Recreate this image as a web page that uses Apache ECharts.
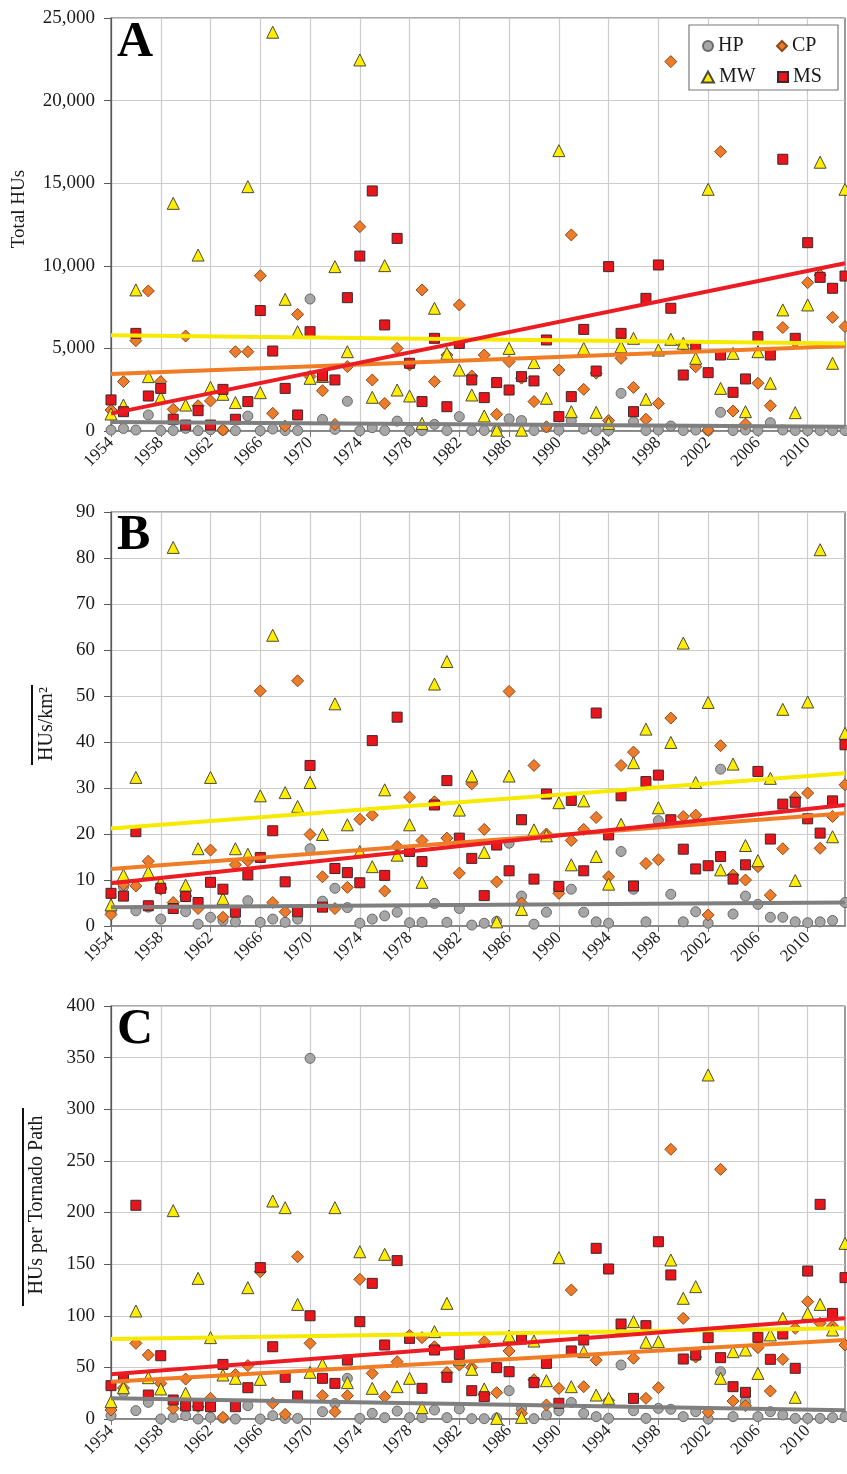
<!DOCTYPE html>
<html>
<head>
<meta charset="utf-8">
<title>Tornado HUs 1954–2013</title>
<script src="https://cdn.jsdelivr.net/npm/echarts@6/dist/echarts.min.js"></script>
<style>
  html, body { margin: 0; padding: 0; background: #fff; }
  #chart { width: 847px; height: 1474px; }
</style>
</head>
<body>
<div id="chart"></div>
<script>
// Years on the category axis
const years = ['1954','1955','1956','1957','1958','1959','1960','1961','1962','1963',
  '1964','1965','1966','1967','1968','1969','1970','1971','1972','1973',
  '1974','1975','1976','1977','1978','1979','1980','1981','1982','1983',
  '1984','1985','1986','1987','1988','1989','1990','1991','1992','1993',
  '1994','1995','1996','1997','1998','1999','2000','2001','2002','2003',
  '2004','2005','2006','2007','2008','2009','2010','2011','2012','2013'];

const regions = ['HP', 'CP', 'MW', 'MS'];

// Panel A: total HUs per year
const totalHP = [
  60,150,60,970,30,30,160,20,80,50,
  20,900,20,120,30,30,7990,700,100,1800,
  20,200,30,600,30,30,400,30,870,30,
  30,30,730,630,30,220,50,630,120,30,
  30,2280,560,30,60,300,30,60,30,1130,
  30,60,30,500,60,30,30,30,30,30];
const totalCP = [
  1270,2990,5470,8480,2990,1310,5750,1530,1820,60,
  4800,4800,9400,1070,300,7060,3300,2440,400,3900,
  12370,3090,1670,5000,4000,8540,2990,4600,7630,3330,
  4600,1010,4200,3200,1780,260,3690,11870,2520,3500,
  630,4400,2640,710,1670,22360,5200,3890,60,16910,
  1210,420,2890,1530,6260,5400,8980,9440,6880,6320];
const totalMW = [
  1030,1570,8540,3290,2020,13780,1570,10650,2640,2220,
  1720,14790,2320,24140,7970,6010,3190,3300,9950,4800,
  22460,2040,10010,2480,2120,460,7430,4700,3690,2180,
  910,50,5000,50,4140,1980,16970,1170,5000,1130,
  460,5100,5610,1920,4900,5550,5310,4400,14630,2580,
  4700,1170,4800,2890,7330,1110,7630,16270,4100,14630];
const totalMS = [
  1880,1170,5910,2120,2580,710,360,1230,360,2520,
  710,1780,7290,4840,2580,970,6010,3330,3090,8070,
  10590,14530,6420,11660,4100,1780,5610,1470,5300,3090,
  2020,2930,2480,3290,3030,5510,870,2080,6150,3630,
  9950,5910,1170,8030,10050,7430,3390,5100,3530,4600,
  2340,3150,5710,4600,16450,5610,11400,9300,8640,9380];
// Trend line values at 1954 and 2013 (HP, CP, MW, MS)
const totalTrends = [[550, 250], [3450, 5150], [5800, 5300], [1050, 10150]];

// Panel B: HUs per km²
const densityHP = [
  3.0,8.5,3.3,4.1,1.5,4.5,3.1,0.4,1.9,1.2,
  0.9,5.5,0.8,1.5,0.8,1.5,16.8,5.4,8.2,4.0,
  0.6,1.5,2.2,3.0,0.7,0.8,4.9,0.8,3.8,0.2,
  0.6,1.0,18.0,6.5,0.4,3.0,8.0,8.0,3.0,0.9,
  0.6,16.2,8.0,0.9,22.9,6.9,0.9,3.1,0.6,34.1,
  2.6,6.5,4.7,1.9,1.9,0.9,0.7,0.9,1.2,5.1];
const densityCP = [
  2.5,9.0,8.7,14.1,8.0,5.1,6.5,3.8,16.5,1.9,
  13.3,14.2,51.1,5.1,3.1,53.3,19.9,10.7,3.8,8.4,
  23.2,24.1,7.6,17.3,28.0,18.6,27.0,19.1,11.5,30.9,
  21.0,9.6,51.0,5.0,34.9,20.0,7.1,18.6,21.0,23.6,
  10.7,34.9,37.8,13.6,14.4,45.2,23.8,24.1,2.4,39.2,
  11.1,10.0,12.9,6.7,16.8,28.0,28.9,16.9,23.8,30.7];
const densityMW = [
  4.6,11.1,32.3,11.7,9.5,82.3,8.9,16.8,32.3,6.0,
  16.8,15.6,28.3,63.2,29.0,26.0,31.2,19.9,48.3,22.0,
  16.2,12.9,29.6,15.4,22.0,9.5,52.6,57.5,25.2,32.6,
  16.0,0.9,32.6,3.6,20.9,19.6,26.8,13.3,27.2,15.1,
  9.1,22.1,35.5,42.8,25.7,39.9,61.5,31.2,48.6,12.2,
  35.2,17.5,14.2,32.1,47.1,9.9,48.7,81.8,19.4,41.9];
const densityMS = [
  7.1,6.5,20.5,4.4,8.2,3.8,6.4,5.1,9.5,8.0,
  3.0,11.1,14.9,20.7,9.6,3.1,34.9,4.1,12.5,11.6,
  9.4,40.3,11.0,45.4,16.2,14.0,26.3,31.6,19.1,14.7,
  6.6,17.6,12.0,23.1,10.2,28.7,8.6,27.3,12.0,46.3,
  19.8,28.3,8.7,31.4,32.8,23.1,16.7,12.4,13.1,15.1,
  10.2,13.3,33.6,18.9,26.5,26.9,23.3,20.2,27.2,39.4];
const densityTrends = [[4.1, 5.1], [12.4, 24.5], [21.2, 33.2], [9.3, 26.3]];

// Panel C: HUs per tornado path
const pathHP = [
  3.2,25.5,8.1,16.1,0,1.6,3.2,0,1.6,1.0,
  0,12.9,0,3.2,0.6,0.6,349.3,7.1,15,39.4,
  0.6,5.5,1.3,7.7,1.3,1.3,8.7,1.3,9.7,0.3,
  0.3,1.0,27.4,10,0.3,3.9,8,16.1,5.5,2.3,
  0.6,52.3,8,0.6,10.3,9.4,2.3,7.1,0,45.8,
  2.3,16.8,2.3,7.1,3.9,0.6,0.6,0.6,1.3,2.3];
const pathCP = [
  8.7,30,73.3,62,34.5,10.3,38.7,12,20,1.6,
  43,51.7,142.7,15.2,4.5,157.2,73.3,22.6,7.1,22.6,
  135.3,44.2,21.6,55.5,81,78.8,70,45,52.3,50,
  74.9,25.5,65.9,5.5,38,13.6,29.7,124.9,31.3,57,
  18,85,58.8,20,30.3,261.2,97.5,60,6.5,241.8,
  17.4,12.9,69.1,27.1,57.8,87.8,113.6,92.7,90,71.7];
const pathMW = [
  16.8,30.3,104.6,40,29.1,201.8,24.9,136.2,78.8,42.6,
  39.4,127.2,38.4,211.1,204.7,111,45.2,52.9,204.7,35.2,
  162,29.7,159.5,31.3,39.4,11,84.6,112,58,48.1,
  29.1,0.6,80.4,1.6,75.5,37.1,156.3,31.3,65.2,23.2,
  20,89,94.3,74.3,74.9,154,116.9,128.2,333.2,39.4,
  65.2,66.8,44.2,81.4,97.5,21,102.3,111,86.2,170.1];
const pathMS = [
  32.3,40,207,23.2,61.3,18.4,12.6,12.9,11.9,52.9,
  11.9,30.3,146.6,70,40.4,22.3,100,39.4,34.5,57.1,
  94.3,131.4,71.7,153.4,78.1,29.7,66.8,40.4,62.6,27.4,
  21.6,49.7,45.8,77.5,35.2,53.9,15.2,65.9,76.5,165.3,
  145.3,92,20,90.4,171.7,139.5,58.1,62,78.8,59.4,
  31.3,25.8,79.1,57.8,82.3,49.1,143.3,207.9,102.3,136.9];
const pathTrends = [[20, 8.5], [36, 76.5], [77.5, 87.8], [43.3, 97.5]];

// Axis ranges
const axisMax = [25000, 90, 400];
const axisStep = [5000, 10, 50];

const SERIF = '"Liberation Serif", "Times New Roman", serif';
const TEXT = '#1a1a1a';

const markers = {
  HP: { symbol: 'circle',   size: 10, fill: '#a6a6a6', border: '#6a6a6a' },
  CP: { symbol: 'diamond',  size: 12, fill: '#ec7b2a', border: '#8a4a1e' },
  MW: { symbol: 'triangle', size: 12, fill: '#ffee00', border: '#4a4a3a' },
  MS: { symbol: 'rect',     size: 10, fill: '#e8161c', border: '#3a2a2a' }
};
const trendColors = { HP: '#7f7f7f', CP: '#f07d26', MW: '#f6ea00', MS: '#ec1c24' };

const panelValues = [
  [totalHP, totalCP, totalMW, totalMS],
  [densityHP, densityCP, densityMW, densityMS],
  [pathHP, pathCP, pathMW, pathMS]
];
const panelTrends = [totalTrends, densityTrends, pathTrends];

const gridBoxes = [
  { top: 18, height: 413 },
  { top: 512, height: 414 },
  { top: 1006, height: 413 }
];

const withCommas = v => String(v).replace(/\B(?=(\d{3})+(?!\d))/g, ',');

const grid = gridBoxes.map(b => ({
  left: 111, right: 2, top: b.top, height: b.height,
  show: true, borderColor: '#595959', borderWidth: 1.2, backgroundColor: '#fff'
}));

const xAxis = gridBoxes.map((b, i) => ({
  type: 'category', gridIndex: i, data: years, boundaryGap: false,
  axisLine: { lineStyle: { color: '#7a7a7a', width: 1.5 } },
  axisTick: { show: true, interval: 3, length: 6, lineStyle: { color: '#7a7a7a' } },
  axisLabel: { interval: 3, rotate: 45, margin: 9, fontFamily: SERIF, fontSize: 17, color: TEXT },
  splitLine: { show: true, interval: 3, lineStyle: { color: '#cccccc', width: 1.2 } }
}));

const yAxis = gridBoxes.map((b, i) => ({
  type: 'value', gridIndex: i, min: 0, max: axisMax[i], interval: axisStep[i],
  axisLine: { show: true, lineStyle: { color: '#595959', width: 1.2 } },
  axisTick: { show: true, length: 7, lineStyle: { color: '#595959' } },
  axisLabel: { margin: 16, fontFamily: SERIF, fontSize: 19, color: TEXT, formatter: withCommas },
  splitLine: { show: true, lineStyle: { color: '#cccccc', width: 1.2 } }
}));

const series = [];
panelValues.forEach((vals, p) => {
  regions.forEach((r, k) => {
    const m = markers[r];
    series.push({
      name: r, type: 'scatter', xAxisIndex: p, yAxisIndex: p,
      data: vals[k], symbol: m.symbol, symbolSize: m.size, z: 2,
      itemStyle: { color: m.fill, borderColor: m.border, borderWidth: 1, opacity: 1 },
      emphasis: { disabled: true }, silent: true
    });
  });
  regions.forEach((r, k) => {
    const t = panelTrends[p][k];
    series.push({
      name: r + ' trend', type: 'line', xAxisIndex: p, yAxisIndex: p,
      data: [[years[0], t[0]], [years[years.length - 1], t[1]]],
      symbol: 'none', z: 3, silent: true,
      lineStyle: { color: trendColors[r], width: 4 }
    });
  });
});

const legendCommon = {
  orient: 'horizontal', padding: 0, itemWidth: 10, itemHeight: 10, itemGap: 0,
  selectedMode: false, z: 8,
  textStyle: { fontFamily: SERIF, fontSize: 20, color: TEXT }
};
const legend = [
  Object.assign({ data: ['HP'], left: 702, top: 36 }, legendCommon),
  Object.assign({ data: ['CP'], left: 776, top: 36 }, legendCommon),
  Object.assign({ data: ['MW'], left: 701, top: 67, itemWidth: 12, itemHeight: 11 }, legendCommon, { itemWidth: 12, itemHeight: 11 }),
  Object.assign({ data: ['MS'], left: 777, top: 67 }, legendCommon)
];

const graphic = [
  // legend frame
  { type: 'rect', z: 7, shape: { x: 689, y: 25, width: 149, height: 65 },
    style: { fill: '#ffffff', stroke: '#7a7a7a', lineWidth: 1.2 } },
  // panel letters
  { type: 'text', z: 9, x: 117, y: 43, style: { text: 'A', font: 'bold 50px ' + SERIF, fill: '#000', textAlign: 'left', textVerticalAlign: 'middle' } },
  { type: 'text', z: 9, x: 117, y: 536, style: { text: 'B', font: 'bold 50px ' + SERIF, fill: '#000', textAlign: 'left', textVerticalAlign: 'middle' } },
  { type: 'text', z: 9, x: 117, y: 1030, style: { text: 'C', font: 'bold 50px ' + SERIF, fill: '#000', textAlign: 'left', textVerticalAlign: 'middle' } },
  // y-axis titles
  { type: 'text', x: 19, y: 209, rotation: Math.PI / 2,
    style: { text: 'Total HUs', font: '19px ' + SERIF, fill: TEXT, textAlign: 'center', textVerticalAlign: 'middle' } },
  { type: 'text', x: 47, y: 724, rotation: Math.PI / 2,
    style: { text: 'HUs/km²', font: '20px ' + SERIF, fill: TEXT, textAlign: 'center', textVerticalAlign: 'middle' } },
  { type: 'line', shape: { x1: 32, y1: 685, x2: 32, y2: 765 }, style: { stroke: '#111', lineWidth: 2 } },
  { type: 'text', x: 37, y: 1205, rotation: Math.PI / 2,
    style: { text: 'HUs per Tornado Path', font: '20px ' + SERIF, fill: TEXT, textAlign: 'center', textVerticalAlign: 'middle' } },
  { type: 'line', shape: { x1: 23, y1: 1108, x2: 23, y2: 1306 }, style: { stroke: '#111', lineWidth: 2 } }
];

const chart = echarts.init(document.getElementById('chart'), null, { renderer: 'canvas' });
chart.setOption({
  animation: false,
  backgroundColor: '#ffffff',
  grid, xAxis, yAxis, series, legend, graphic
});
</script>
</body>
</html>
